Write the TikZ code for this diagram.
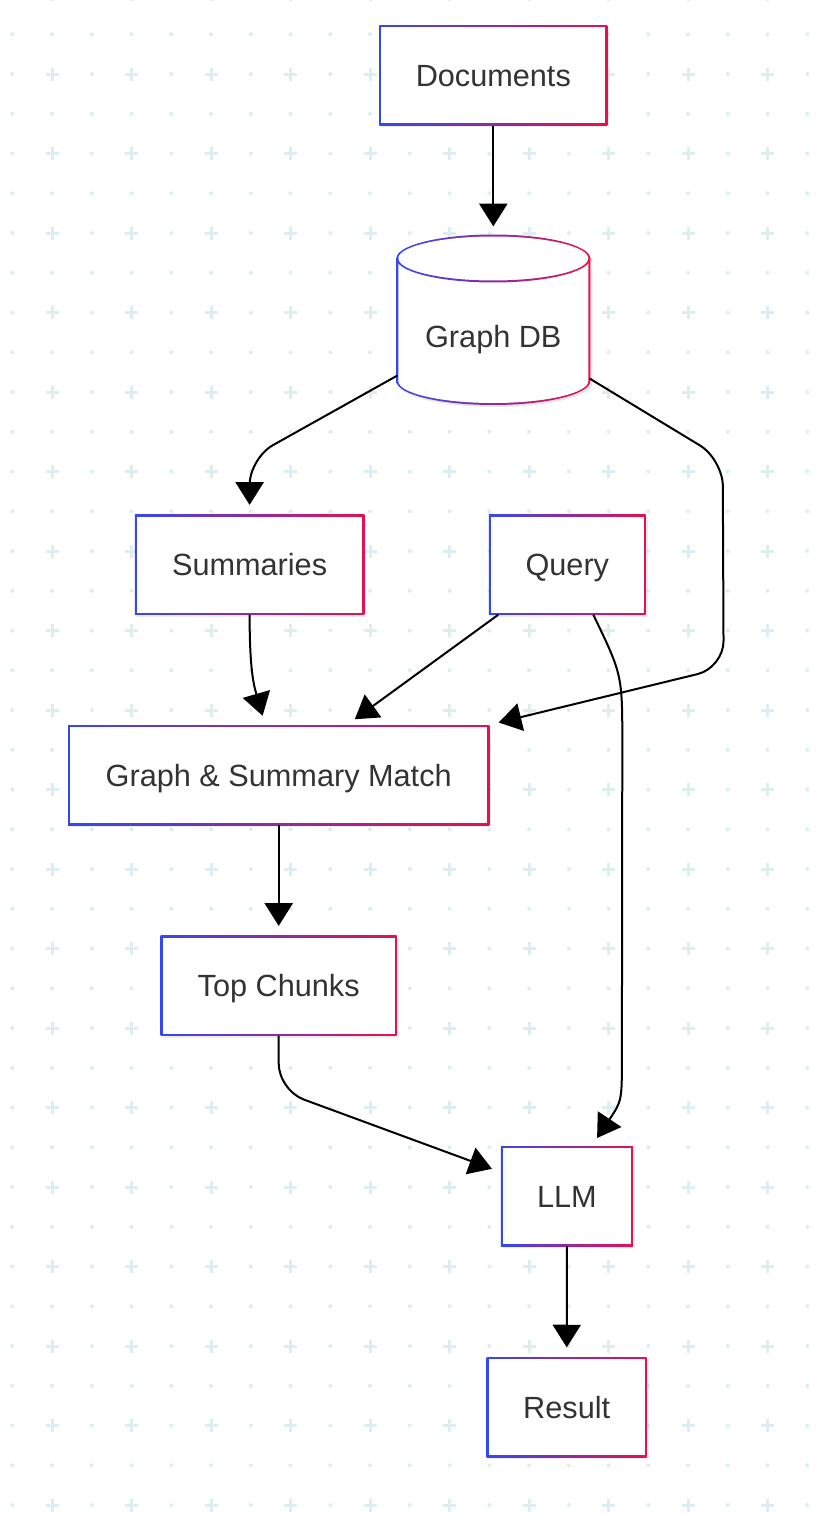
\documentclass[tikz,border=0pt]{standalone}
\usepackage{fontspec}
\setmainfont{Liberation Sans}
\usetikzlibrary{arrows.meta, calc, shadows}

\definecolor{gradblue}{HTML}{3448F0}
\definecolor{gradred}{HTML}{E8104E}
\definecolor{txtgray}{HTML}{333333}
\definecolor{dotcol}{HTML}{DCEEF2}

\tikzset{
  lbl/.style={inner sep=0pt, text=txtgray, font=\fontsize{23}{27}\selectfont,
    text height=16.5pt, text depth=0pt},
  box/.style={lbl, rectangle, minimum height=75pt,
    left color=gradblue, right color=gradred,
    drop shadow={shadow xshift=1.5pt, shadow yshift=-1.5pt, opacity=0.14},
    path picture={\fill[white] ([shift={(1.5pt,-1.5pt)}]path picture bounding box.north west)
      rectangle ([shift={(-1.5pt,1.5pt)}]path picture bounding box.south east);}},
  dbnode/.style={lbl, minimum width=145.5pt, minimum height=151.5pt},
  arr/.style={line width=1.5pt, -{Triangle[length=17pt, width=21pt]}, shorten >=7pt},
}

\begin{document}
\begin{tikzpicture}[x=0.75pt, y=-0.75pt]
\useasboundingbox (0,0) rectangle (828,1519);
\fill[white] (0,0) rectangle (828,1519);

%% dotted background, a cross on every odd/odd point
\foreach \i in {0,...,20}{
  \foreach \j in {-1,...,37}{
    \pgfmathtruncatemacro{\iodd}{abs(mod(\i,2)*mod(\j,2))}
    \ifnum\iodd=0
      \fill[dotcol] (12.3+39.75*\i, 34.3+39.75*\j) circle[radius=2];
    \else
      \draw[dotcol, line width=2.25pt] (5.8+39.75*\i, 34.3+39.75*\j) -- (18.8+39.75*\i, 34.3+39.75*\j)
        (12.3+39.75*\i, 27.8+39.75*\j) -- (12.3+39.75*\i, 40.8+39.75*\j);
    \fi
  }
}

%% Graph DB cylinder, drawn by hand
\def\cx{493.3}
\fill[black, opacity=0.1, shift={(2,2)}] (\cx-97,258.5) -- (\cx-97,381)
  arc[start angle=180, end angle=0, x radius=97, y radius=24] -- (\cx+97,258.5)
  arc[start angle=0, end angle=-180, x radius=97, y radius=24] -- cycle;
\shade[left color=gradblue, right color=gradred] (\cx-97,258.5) -- (\cx-97,381)
  arc[start angle=180, end angle=0, x radius=97, y radius=24] -- (\cx+97,258.5)
  arc[start angle=0, end angle=-180, x radius=97, y radius=24] -- cycle;
\fill[white] (\cx-95,258.5) -- (\cx-95,381)
  arc[start angle=180, end angle=0, x radius=95, y radius=22] -- (\cx+95,258.5)
  arc[start angle=0, end angle=-180, x radius=95, y radius=22] -- cycle;
%% front rim of the lid
\shade[left color=gradblue, right color=gradred]
  (\cx-97,258.5) arc[start angle=180, end angle=0, x radius=97, y radius=24]
  -- (\cx+95,258.5) arc[start angle=0, end angle=180, x radius=95, y radius=22] -- cycle;

%% Nodes
\node[box, minimum width=171pt] (docs) at (493.3,75.5) {Documents};
\node[dbnode] (gdb) at (\cx,337) {Graph DB};
\node[box, minimum width=172pt] (summaries) at (249.6,564.5) {Summaries};
\node[box, minimum width=117.5pt] (query) at (567.3,564.5) {Query};
\node[box, minimum width=316pt] (match) at (278.7,775) {Graph \& Summary Match};
\node[box, minimum width=177pt] (topchunks) at (278.7,985.5) {Top Chunks};
\node[box, minimum width=99pt] (llm) at (566.9,1196) {LLM};
\node[box, minimum width=120pt] (result) at (566.7,1407) {Result};

%% Connectors
\draw[arr] (docs) -- (gdb);
\draw[arr, rounded corners=20pt] ($(gdb.west)+(1.4,38.5)$) -- ($(summaries.north)+(0,-56)$) -- (summaries);
\draw[arr, rounded corners=20pt] ($(gdb.east)+(-1,41.5)$) -- ($(query.north)+(155.4,-55)$)
  -- ($(match.north east)+(234,-57)$) -- (match.north east);
\draw[arr] ($(query.south west)+(9.5,0)$) -- ($(match.north)+(68.5,0)$);
\draw[arr] (summaries.south) .. controls ($(summaries.south)+(0,55)$) and ($(match.north)+(-25,-40)$)
  .. ($(match.north)+(-13.5,0)$);
\draw[arr] ($(query.south)+(26,0)$) .. controls ($(query.south)+(55,60)$) .. ($(query.south)+(55,130)$)
  -- ($(llm.north)+(55,-90)$) .. controls ($(llm.north)+(55,-45)$) .. ($(llm.north)+(25,0)$);
\draw[arr] (match) -- (topchunks);
\draw[arr, rounded corners=20pt] (topchunks.south) -- ($(topchunks.south)+(0,54.5)$) -- ($(llm.west)+(0,-24)$);
\draw[arr] (llm) -- (result);

\end{tikzpicture}
\end{document}
